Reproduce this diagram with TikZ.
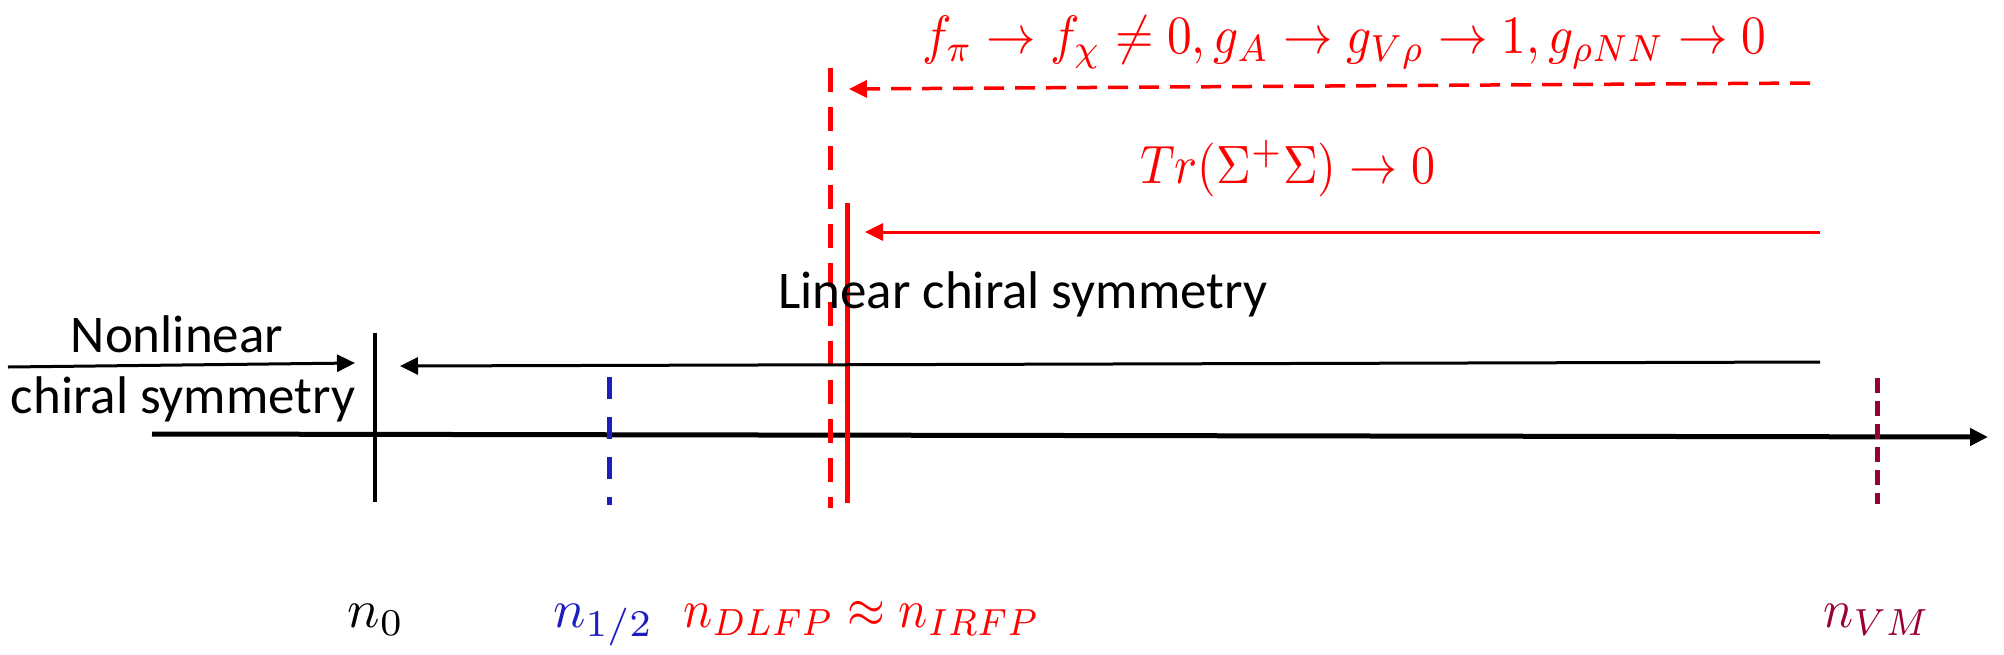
\documentclass[tikz,border=0pt]{standalone}
\usepackage[no-math]{fontspec}
\usepackage{graphicx}
\setmainfont{Carlito}
\usetikzlibrary{arrows.meta}
\definecolor{nblue}{RGB}{30,30,190}
\definecolor{nmaroon}{RGB}{153,0,51}
\definecolor{nred}{RGB}{255,0,0}
\newcommand{\bigmath}[2][5.4]{\scalebox{#1}[5.4]{$#2$}}
\begin{document}
\begin{tikzpicture}[x=1pt,y=-1pt,
  tipA/.style={-{Triangle[length=18pt,width=17pt]}},
  txt/.style={font=\fontsize{53}{60}\selectfont, inner sep=0pt},
  mth/.style={inner sep=0pt},
  axisline/.style={line width=5pt, tipA},
  thinarrow/.style={line width=3pt, tipA}]
\useasboundingbox (0,0) rectangle (2004,654);

% coordinates
\coordinate (axL) at (152,434);
\coordinate (axR) at (1988,437);
\coordinate (t0a) at (375,333);   \coordinate (t0b) at (375,502);
\coordinate (thA) at (609,377);   \coordinate (thB) at (609,505);
\coordinate (rdA) at (830,68);    \coordinate (rdB) at (830,508);
\coordinate (rsA) at (847,203);   \coordinate (rsB) at (847,503);
\coordinate (vmA) at (1877,378);  \coordinate (vmB) at (1877,504);
\coordinate (baR) at (1820,362);  \coordinate (baL) at (400,366);
\coordinate (laL) at (8,367);     \coordinate (laR) at (355,363);
\coordinate (raR) at (1820,232);  \coordinate (raL) at (865,232);
\coordinate (daR) at (1810,83);   \coordinate (daL) at (849,89);

% main axis and ticks
\draw[axisline] (axL) -- (axR);
\draw[line width=4pt] (t0a) -- (t0b);
\draw[line width=5pt, nblue, dash pattern=on 22pt off 18pt] (thA) -- (thB);
\draw[line width=5pt, nred, dash pattern=on 24pt off 15pt] (rdA) -- (rdB);
\draw[line width=5pt, nred] (rsA) -- (rsB);
\draw[line width=5pt, nmaroon, dash pattern=on 15pt off 8pt] (vmA) -- (vmB);

% arrows
\draw[thinarrow] (baR) -- (baL);
\draw[thinarrow] (laL) -- (laR);
\draw[thinarrow, nred] (raR) -- (raL);
\draw[thinarrow, nred, line width=3.5pt, dash pattern=on 20pt off 11pt] (daR) -- (daL);

% texts
\node[txt, anchor=base] (nl) at (177,352) {Nonlinear};
\node[txt, anchor=base] (cs) at (183,413) {chiral symmetry};
\node[txt, anchor=base west] (lcs) at (778,308) {Linear chiral symmetry};
\node[mth, nred, anchor=base west] (f1) at (922,53)
  {\bigmath[4.94]{f_{\pi}\rightarrow f_{\chi}\neq 0, g_{A}\rightarrow g_{V\rho}\rightarrow 1, g_{\rho NN}\rightarrow 0}};
\node[mth, nred, anchor=base west] (f2) at (1140,183)
  {\bigmath[4.8]{Tr(\Sigma^{+}\Sigma)\rightarrow 0}};
\node[mth, anchor=base] (n0) at (376,627) {\bigmath{n_{0}}};
\node[mth, nblue, anchor=base west] (nh) at (553,627) {\bigmath{n_{1/2}}};
\node[mth, nred, anchor=base west] (nd) at (683,627) {\bigmath[4.86]{n_{DLFP}\approx n_{IRFP}}};
\node[mth, nmaroon, anchor=base] (nv) at (1877,627) {\bigmath[5.0]{n_{VM}}};
\end{tikzpicture}
\end{document}
